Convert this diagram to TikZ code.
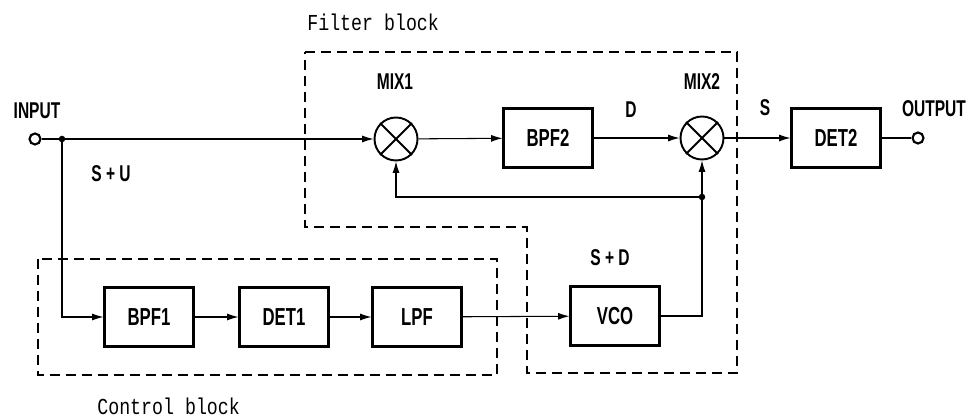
\documentclass[tikz,border=0pt]{standalone}
\usepackage{fontspec}
\setmainfont{Liberation Sans}
\newfontfamily\lblfont[FakeStretch=0.68]{Liberation Sans}
\newfontfamily\capfont[FakeStretch=0.8]{Liberation Mono}
\usetikzlibrary{arrows.meta}
\begin{document}
\begin{tikzpicture}[x=0.02cm,y=-0.02cm,
  blockbox/.style={draw,line width=1.2pt,minimum width=1.78cm,minimum height=1.18cm,inner sep=0pt,font=\lblfont\bfseries\fontsize{14}{15}\selectfont},
  mixer/.style={draw,circle,line width=1.1pt,minimum size=0.86cm,inner sep=0pt},
  term/.style={draw,circle,line width=1.2pt,minimum size=0.22cm,inner sep=0pt},
  lbl/.style={font=\lblfont\bfseries\fontsize{13}{14}\selectfont,inner sep=0pt},
  captext/.style={font=\capfont\fontsize{13}{14}\selectfont,inner sep=0pt,anchor=west},
  conn/.style={line width=0.6pt},
  arr/.style={conn,-{Latex[length=6.5pt,width=4pt]}},
  dashedbox/.style={line width=1.3pt,dash pattern=on 0.2cm off 0.12cm},
  jdot/.style={circle,fill,inner sep=0pt,minimum size=0.13cm}
]
\useasboundingbox (0,0) rectangle (970,418);
% dashed blocks
\draw[dashedbox] (305,52) -- (737,52) -- (737,373) -- (527,373) -- (527,227) -- (305,227) -- cycle;
\draw[dashedbox] (38,259) rectangle (497,375);
% nodes
\node[term] (in) at (35,139) {};
\node[term] (out) at (918,138) {};
\node[mixer] (m1) at (396,139) {};
\node[mixer] (m2) at (702,138) {};
\draw[line width=1.1pt] (m1.45) -- (m1.225) (m1.135) -- (m1.315);
\draw[line width=1.1pt] (m2.45) -- (m2.225) (m2.135) -- (m2.315);
\node[blockbox] (bpf2) at (548,138) {BPF2};
\node[blockbox] (det2) at (836,138) {DET2};
\node[blockbox] (bpf1) at (149,317) {BPF1};
\node[blockbox] (det1) at (284,317) {DET1};
\node[blockbox] (lpf) at (417,317) {LPF};
\node[blockbox] (vco) at (615,316) {VCO};
\coordinate (jn) at (62,139);
\coordinate (fb) at (702,197);
% connectors
\draw[conn] (in) -- (jn);
\draw[arr] (jn) -- (m1);
\draw[arr] (m1) -- (bpf2);
\draw[arr] (bpf2) -- (m2);
\draw[arr] (m2) -- (det2);
\draw[conn] (det2) -- (out);
\draw[arr] (jn) |- (bpf1);
\draw[arr] (bpf1) -- (det1);
\draw[arr] (det1) -- (lpf);
\draw[arr] (lpf) -- (vco);
\draw[conn] (vco.east) -| (fb);
\draw[arr] (fb) -- (m2);
\draw[arr] (fb) -| (m1);
\node[jdot] at (jn) {};
\node[jdot] at (fb) {};
% labels
\node[lbl] (tin) at (37,111) {INPUT};
\node[lbl] (tout) at (934,109) {OUTPUT};
\node[lbl] (tsu) at (111,174) {S + U};
\node[lbl] (tm1) at (395,82) {MIX1};
\node[lbl] (tm2) at (702,82) {MIX2};
\node[lbl] (td) at (631,110) {D};
\node[lbl] (ts) at (765,108) {S};
\node[lbl] (tsd) at (610,258) {S + D};
\node[captext] (tfb) at (307,22) {Filter block};
\node[captext] (tcb) at (97,406) {Control block};
\end{tikzpicture}
\end{document}
